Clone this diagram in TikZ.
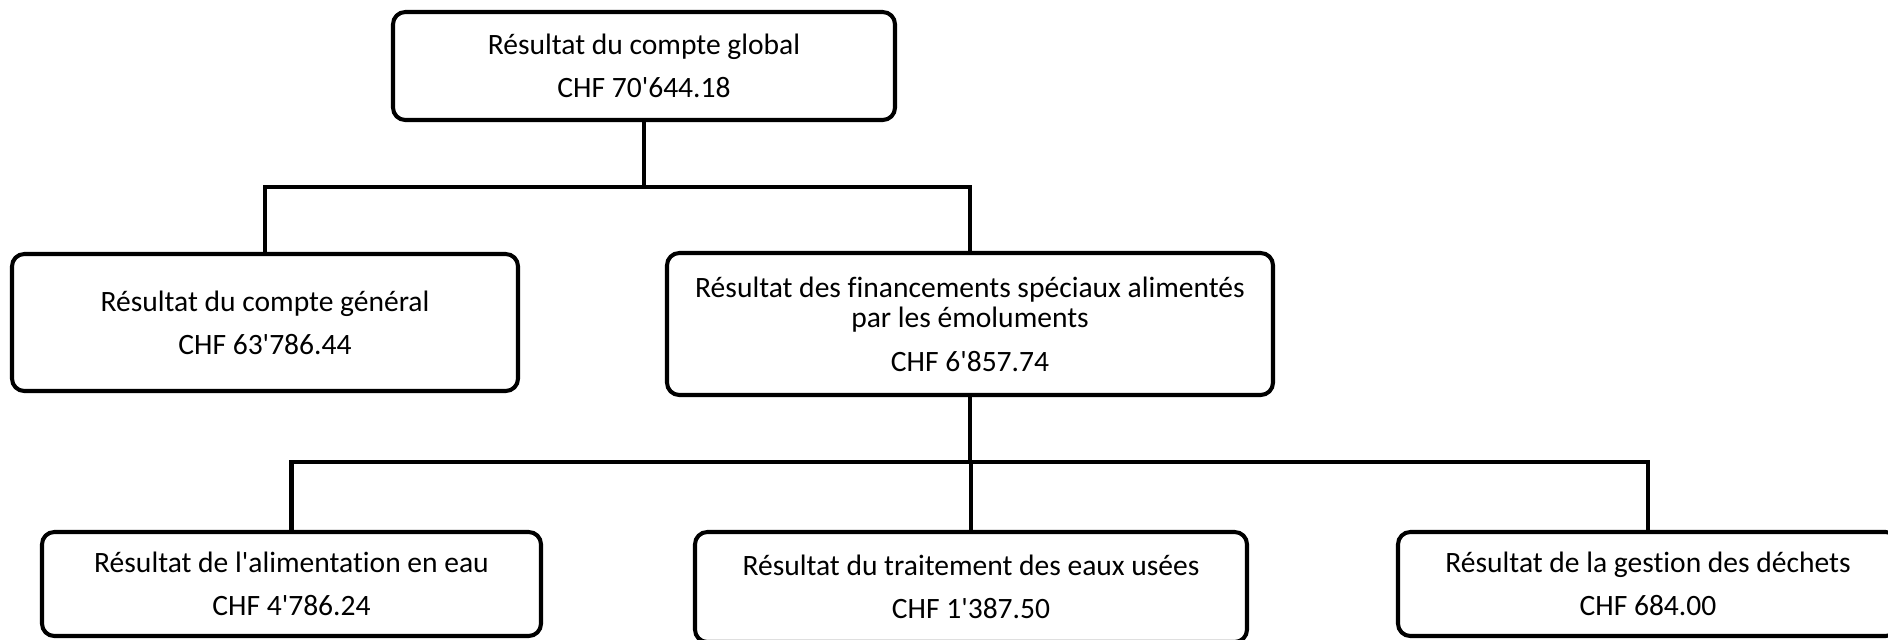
\documentclass[tikz,border=0pt]{standalone}
\usepackage{fontspec}
\setmainfont{Carlito}[Ligatures={NoCommon}]
\usetikzlibrary{positioning}
\newcommand{\apos}{\textquotesingle}

\begin{document}
\begin{tikzpicture}[x=0.01cm, y=-0.01cm,
  resbox/.style={draw, line width=1.15pt, rounded corners=3.5pt, align=center,
    inner sep=0pt, font=\fontsize{8.4}{8.6}\selectfont},
  link/.style={line width=1.15pt}]
  \useasboundingbox (0,0) rectangle (1888,639);
  \clip (0,0) rectangle (1888,639);

  % Top level
  \node[resbox, minimum width=502*0.01cm, minimum height=108*0.01cm] (global) at (644,66)
    {Résultat du compte global\\[3.6pt] CHF 70\apos644.18};

  % Second level
  \node[resbox, minimum width=506*0.01cm, minimum height=137*0.01cm] (general) at (265,322.5)
    {Résultat du compte général\\[3.6pt] CHF 63\apos786.44};
  \node[resbox, minimum width=606*0.01cm, minimum height=142*0.01cm] (special) at (970,324)
    {Résultat des financements spéciaux alimentés\\par les émoluments\\[3.8pt] CHF 6\apos857.74};

  % Third level
  \node[resbox, minimum width=499*0.01cm, minimum height=104*0.01cm] (water) at (291.5,584)
    {Résultat de l\apos alimentation en eau\\[3.6pt] CHF 4\apos786.24};
  \node[resbox, minimum width=552*0.01cm, minimum height=110*0.01cm] (sewage) at (971,587)
    {Résultat du traitement des eaux usées\\[3.6pt] CHF 1\apos387.50};
  \node[resbox, minimum width=500*0.01cm, minimum height=104*0.01cm] (waste) at (1648,584)
    {Résultat de la gestion des déchets\\[3.6pt] CHF 684.00};

  % Bus lines
  \coordinate (bus1) at (0,187);
  \coordinate (bus2) at (0,462);

  \draw[link] (global.south) -- (global.south |- bus1);
  \foreach \child in {general, special} {
    \draw[link] (global.south |- bus1) -| (\child.north);
  }
  \draw[link] (special.south) -- (special.south |- bus2);
  \foreach \child in {water, sewage, waste} {
    \draw[link] (special.south |- bus2) -| (\child.north);
  }
\end{tikzpicture}
\end{document}
